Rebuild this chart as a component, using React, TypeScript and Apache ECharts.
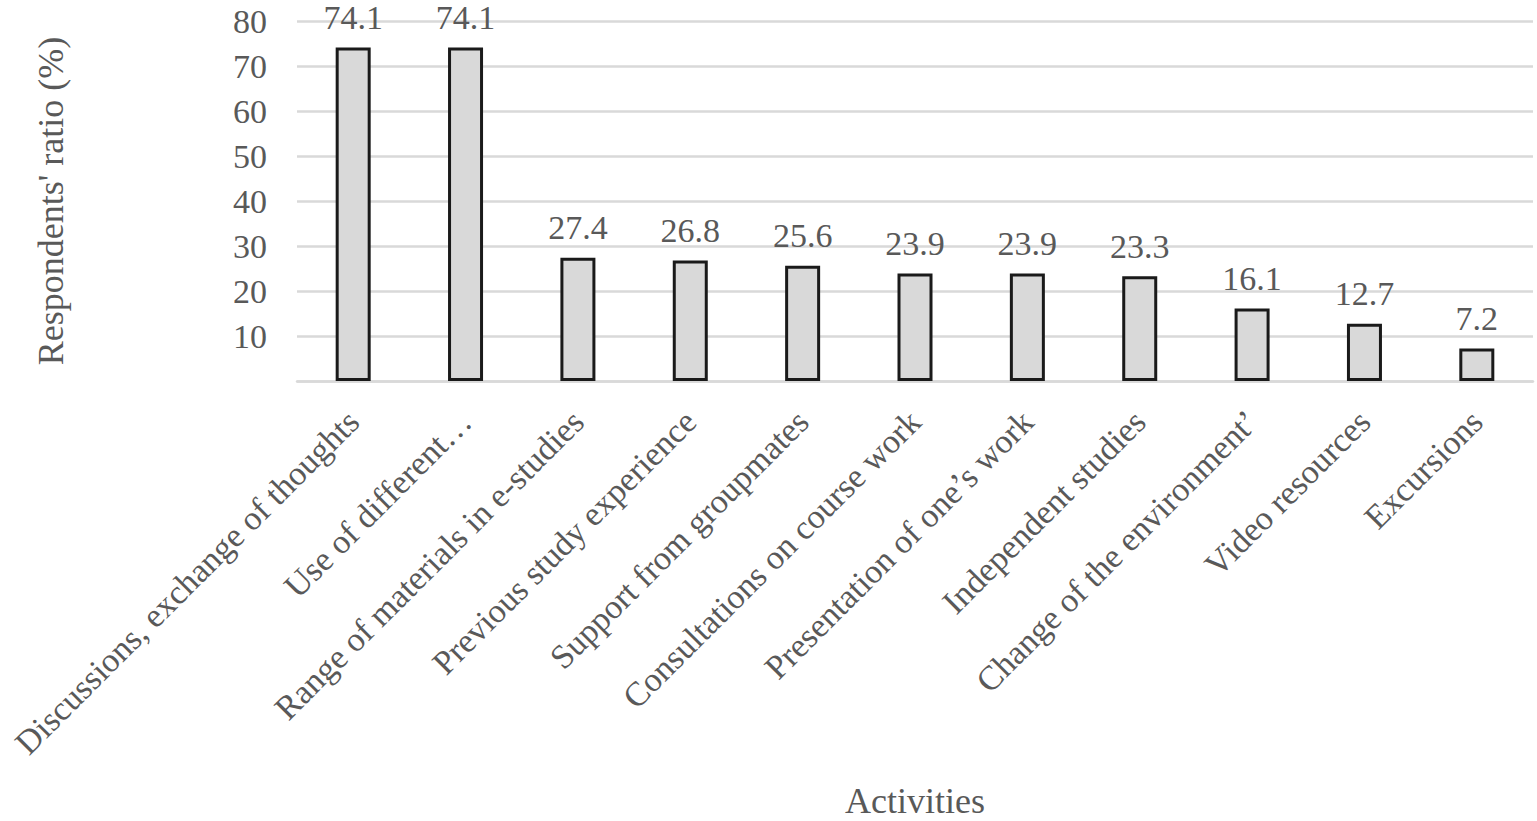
import React, { useEffect, useRef } from "react";
import * as echarts from "echarts";

const categories = [
  "Discussions, exchange of thoughts",
  "Use of different…",
  "Range of materials in e-studies",
  "Previous study experience",
  "Support from groupmates",
  "Consultations on course work",
  "Presentation of one’s work",
  "Independent studies",
  "Change of the environment’",
  "Video resources",
  "Excursions",
];
const values = [74.1, 74.1, 27.4, 26.8, 25.6, 23.9, 23.9, 23.3, 16.1, 12.7, 7.2];
const yTicks = [0, 10, 20, 30, 40, 50, 60, 70, 80];
const xTitle = "Activities";
const yTitle = "Respondents' ratio (%)";

const FONT = '"Liberation Serif", "Times New Roman", serif';
const TEXT = "#595959";

export default function App() {
  const ref = useRef<HTMLDivElement>(null);
  useEffect(() => {
    if (!ref.current) return;
    const chart = echarts.init(ref.current, null, { renderer: "svg" });
    chart.setOption({
      animation: false,
      backgroundColor: "#ffffff",
      textStyle: { fontFamily: FONT },
      grid: {
        left: 297,
        right: 4,
        top: 21,
        bottom: 440,
        containLabel: false,
        outerBoundsMode: "none",
      },
      xAxis: {
        type: "category",
        data: categories,
        name: xTitle,
        nameLocation: "middle",
        nameGap: 405,
        nameTextStyle: {
          fontFamily: FONT,
          fontSize: 36,
          lineHeight: 30,
          color: TEXT,
          verticalAlign: "top",
        },
        axisLine: { show: true, lineStyle: { color: "#d9d9d9", width: 2.5 } },
        axisTick: { show: false },
        axisLabel: {
          interval: 0,
          rotate: 45,
          margin: 35,
          fontFamily: FONT,
          fontSize: 34,
          lineHeight: 28,
          color: TEXT,
        },
      },
      yAxis: {
        type: "value",
        min: yTicks[0],
        max: yTicks[yTicks.length - 1],
        interval: 10,
        name: yTitle,
        nameLocation: "middle",
        nameGap: 228,
        nameTextStyle: { fontFamily: FONT, fontSize: 36, color: TEXT },
        axisLine: { show: false },
        axisTick: { show: false },
        axisLabel: {
          margin: 30,
          fontFamily: FONT,
          fontSize: 34,
          color: TEXT,
          formatter: (v: number) => (v === 0 ? "" : String(v)),
        },
        splitLine: { show: true, lineStyle: { color: "#d9d9d9", width: 2.5 } },
      },
      series: [
        {
          type: "bar",
          data: values,
          barWidth: 35,
          itemStyle: { color: "#d9d9d9", borderColor: "#1a1a1a", borderWidth: 3 },
          label: {
            show: true,
            position: "top",
            distance: 17,
            lineHeight: 26,
            fontFamily: FONT,
            fontSize: 34,
            color: TEXT,
            formatter: (p: any) => p.value.toFixed(1),
          },
        },
      ],
    });
    return () => chart.dispose();
  }, []);
  return (
    <div
      ref={ref}
      style={{ position: "fixed", left: 0, top: 0, width: 1537, height: 821, background: "#fff" }}
    />
  );
}
